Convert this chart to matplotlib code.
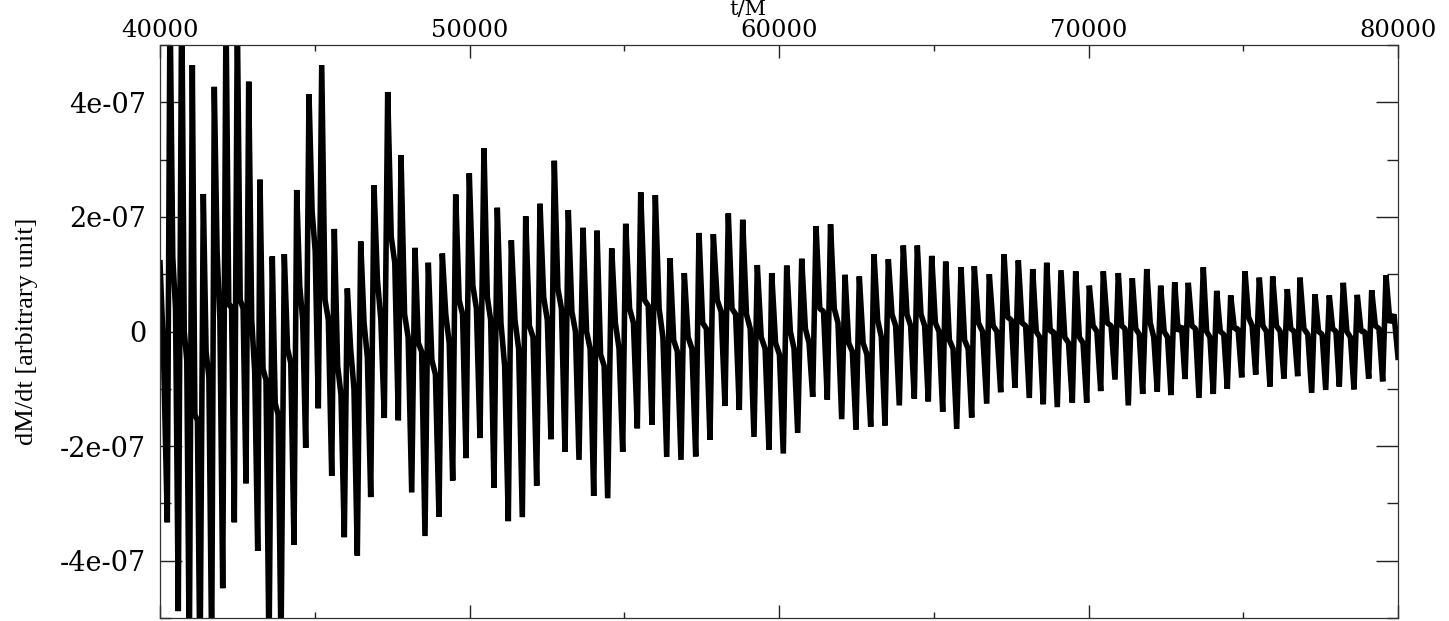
import numpy as np
import matplotlib
matplotlib.use("Agg")
import matplotlib.pyplot as plt
from matplotlib.ticker import FixedLocator, MultipleLocator

# values, dM/dt in units of 1e-7, t in M
# one entry per cycle: a sharp dip (t_lo, lo), then a sharp peak (t_hi, hi),
# then two baseline samples (base_a, base_b) before the next dip
t_lo = [40236, 40591, 40947, 41292, 41670, 42026, 42401, 42779, 43157, 43522,
        43910, 44330, 44708, 45115, 45548, 45955, 46375, 46808, 47247, 47700,
        48133, 48562, 49014, 49457, 49887, 50339, 50792, 51254, 51706, 52171,
        52633, 53086, 53538, 54013, 54465, 54950, 55422, 55897, 56372, 56834,
        57309, 57771, 58255, 58717, 59192, 59677, 60139, 60604, 61089, 61561,
        62026, 62488, 62963, 63425, 63887, 64372, 64824, 65289, 65742, 66226,
        66711, 67163, 67625, 68087, 68539, 68992, 69477, 69942, 70394, 70856,
        71286, 71751, 72222, 72665, 73118, 73570, 74032, 74485, 74950, 75402,
        75864, 76316, 76759, 77211, 77664, 78103, 78578, 79053, 79505]
lo = [-3.33, -4.88, -5.8, -6.0, -5.6, -4.48, -3.33, -2.65, -3.83, -5.6,
      -5.5, -3.72, -2.03, -1.34, -2.52, -3.59, -3.91, -2.89, -1.51, -1.55,
      -2.81, -3.57, -3.23, -2.60, -2.21, -1.86, -2.73, -3.31, -3.24, -2.69,
      -1.88, -2.10, -2.24, -2.87, -2.91, -2.10, -1.69, -1.63, -2.19, -2.24,
      -2.18, -1.89, -1.30, -1.37, -1.84, -2.06, -2.13, -1.77, -1.14, -1.19,
      -1.53, -1.71, -1.66, -1.64, -1.29, -1.17, -1.22, -1.40, -1.70, -1.50,
      -1.26, -1.06, -0.98, -1.16, -1.27, -1.32, -1.24, -1.24, -1.04, -0.84,
      -1.29, -1.09, -1.05, -1.11, -0.83, -1.16, -1.09, -1.00, -0.80, -0.75,
      -0.96, -0.82, -0.78, -1.07, -1.02, -0.96, -1.01, -0.82, -0.87]
t_hi = [40323, 40701, 41044, 41399, 41754, 42132, 42498, 42866, 43231, 43628,
        44016, 44417, 44814, 45225, 45632, 46052, 46485, 46914, 47357, 47787,
        48239, 48669, 49121, 49554, 49993, 50468, 50898, 51351, 51816, 52278,
        52740, 53192, 53667, 54120, 54595, 55047, 55532, 56004, 56478, 56940,
        57415, 57878, 58362, 58827, 59299, 59764, 60249, 60734, 61196, 61665,
        62133, 62595, 63069, 63532, 64016, 64469, 64934, 65386, 65881, 66310,
        66795, 67270, 67732, 68197, 68649, 69111, 69586, 70026, 70478, 70963,
        71415, 71881, 72332, 72785, 73224, 73709, 74142, 74594, 75056, 75519,
        75951, 76423, 76833, 77318, 77780, 78232, 78684, 79150, 79612]
hi = [5.8, 6.0, 4.65, 2.40, 4.27, 5.6, 5.5, 4.36, 2.65, 1.31,
      1.35, 2.47, 4.14, 4.65, 1.79, 0.75, 1.57, 2.55, 4.18, 3.08,
      1.46, 1.20, 1.36, 2.39, 2.76, 3.20, 2.16, 1.59, 2.01, 2.23,
      2.98, 2.12, 1.81, 1.76, 1.45, 1.88, 2.43, 2.38, 1.28, 1.02,
      1.72, 1.70, 2.06, 1.95, 1.16, 1.02, 1.15, 1.27, 1.84, 1.87,
      0.99, 0.96, 1.35, 1.26, 1.50, 1.50, 1.32, 1.22, 1.12, 1.14,
      1.00, 1.35, 1.24, 1.09, 1.20, 1.07, 1.05, 0.80, 1.05, 1.02,
      0.93, 1.09, 0.80, 0.86, 0.85, 1.12, 0.71, 0.63, 1.05, 0.94,
      0.96, 0.74, 0.94, 0.65, 0.63, 0.85, 0.64, 0.72, 0.98]
base_a = [1.3, 0.0, -1.45, -0.35, 1.4, 0.45, 0.55, 0.2, -0.65, -1.25,
          -0.3, 0.8, 2.1, 0.55, -0.6, -0.3, 0.15, 0.9, 1.65, 0.3,
          -0.2, -0.5, 0.3, 0.55, 0.8, 0.6, 0.15, 0.2, 0.1, 0.6,
          0.75, 0.35, 0.0, -0.4, 0.15, 0.4, 0.55, 0.4, -0.15, -0.1,
          0.15, 0.55, 0.4, 0.3, -0.1, -0.2, 0.0, 0.05, 0.4, 0.4,
          -0.2, -0.2, 0.2, 0.3, 0.3, 0.3, 0.15, -0.15, -0.15, 0.15,
          0.1, 0.25, 0.15, 0.0, 0.0, -0.1, -0.1, 0.1, 0.15, 0.1,
          0.05, 0.15, 0.0, 0.0, 0.1, 0.0, 0.0, 0.05, 0.25, 0.1,
          0.1, 0.05, 0.05, 0.0, 0.05, 0.0, 0.0, 0.1, 0.15]
base_b = [0.4, -0.5, -1.55, -0.8, 0.2, 0.45, 0.4, -0.7, -0.85, -1.45,
          -0.55, 0.2, 1.4, 0.2, -1.1, -1.0, -0.45, 0.2, 1.2, -0.1,
          -0.35, -0.75, -0.2, 0.3, 0.4, 0.2, -0.6, -0.3, -0.1, 0.2,
          0.4, 0.0, -0.3, -0.6, -0.3, 0.15, 0.45, -0.1, -0.35, -0.3,
          0.05, 0.35, 0.3, 0.05, -0.3, -0.4, -0.3, -0.2, 0.35, 0.15,
          -0.35, -0.4, -0.1, 0.1, 0.1, 0.1, 0.0, -0.3, -0.3, 0.0,
          0.0, 0.2, 0.1, -0.1, 0.0, -0.2, -0.2, 0.0, 0.1, 0.05,
          -0.05, -0.1, -0.1, 0.1, 0.05, -0.1, -0.05, 0.05, 0.1, 0.0,
          0.0, 0.0, -0.05, -0.05, 0.0, -0.1, 0.0, 0.05, 0.3]

# samples before the first cycle and the last one at the right edge
t_start = [40000, 40110]
v_start = [1.2, -0.3]
t_end = [80000]
v_end = [-0.45]

x_ticks = [40000, 50000, 60000, 70000, 80000]
x_ticklabels = ["40000", "50000", "60000", "70000", "80000"]
y_ticks = [-4e-07, -2e-07, 0, 2e-07, 4e-07]
y_ticklabels = ["-4e-07", "-2e-07", "0", "2e-07", "4e-07"]

# assemble the polyline
t = list(t_start)
v = list(v_start)
next_lo = t_lo[1:] + t_end
for i in range(len(t_lo)):
    gap = next_lo[i] - t_hi[i]
    t += [t_lo[i], t_hi[i], t_hi[i] + gap / 3, t_hi[i] + 2 * gap / 3]
    v += [lo[i], hi[i], base_a[i], base_b[i]]
t += t_end
v += v_end
t = np.array(t, dtype=float)
v = np.array(v, dtype=float) * 1e-7

fig = plt.figure(figsize=(14.49, 6.21), dpi=100)
ax = fig.add_axes([160 / 1449, 3 / 621, 1238 / 1449, 573 / 621])

ax.plot(t, v, color="black", lw=4.0, solid_joinstyle="bevel")

ax.set_xlim(40000, 80000)
ax.set_ylim(-5e-07, 5e-07)

ax.xaxis.set_major_locator(FixedLocator(x_ticks))
ax.set_xticklabels(x_ticklabels)
ax.xaxis.set_minor_locator(MultipleLocator(5000))
ax.yaxis.set_major_locator(FixedLocator(y_ticks))
ax.set_yticklabels(y_ticklabels)
ax.yaxis.set_minor_locator(MultipleLocator(1e-07))

ax.tick_params(which="both", direction="in", top=True, bottom=True, left=True, right=True,
               labeltop=True, labelbottom=False, width=1.0, color="#222222")
ax.tick_params(axis="x", which="major", length=9.5, pad=2)
ax.tick_params(axis="x", which="minor", length=4.5)
ax.tick_params(axis="y", which="major", length=16, pad=10)
ax.tick_params(axis="y", which="minor", length=8)

for lab in ax.get_xticklabels():
    lab.set_family("DejaVu Serif")
    lab.set_fontsize(17.5)
for lab in ax.get_yticklabels():
    lab.set_family("DejaVu Serif")
    lab.set_fontsize(19.5)

for sp in ax.spines.values():
    sp.set_linewidth(0.9)
    sp.set_color("#333333")

# x label sits above the tick labels, a bit left of centre, as in the original
fig.text(748 / 1449, 1.0, "t/M", family="DejaVu Serif", fontsize=15,
         ha="center", va="top")
ax.set_ylabel("dM/dt [arbitrary unit]", family="Liberation Serif", fontsize=19, labelpad=16)

fig.savefig("out.png", dpi=100)
